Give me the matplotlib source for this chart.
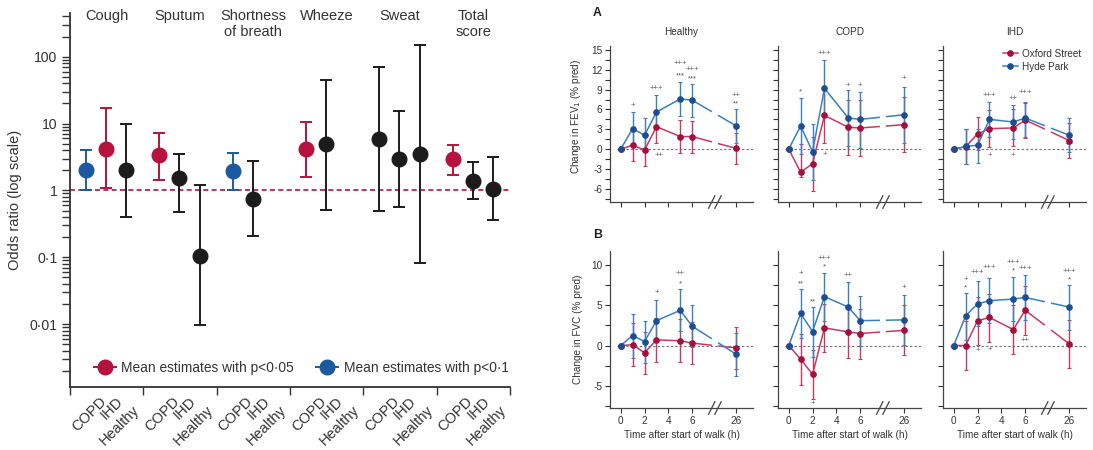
"""Odds ratios of symptoms + FEV1/FVC change after walk (Oxford Street vs Hyde Park)"""
import numpy as np
import matplotlib
matplotlib.use("Agg")
import matplotlib.pyplot as plt
import matplotlib.transforms as mtransforms
from matplotlib.lines import Line2D
from matplotlib.ticker import LogLocator, NullFormatter, FixedLocator, MultipleLocator
from matplotlib import font_manager

_names = {f.name for f in font_manager.fontManager.ttflist}
NARROW = "Liberation Sans Narrow" in _names
FS = 1.0 if NARROW else 0.84
plt.rcParams.update({
    "font.family": ["Liberation Sans Narrow" if NARROW else "Liberation Sans", "DejaVu Sans"],
    "axes.unicode_minus": False,
    "text.color": "#333333", "axes.labelcolor": "#333333",
    "xtick.color": "#333333", "ytick.color": "#333333",
})

RED = "#b5123d"
BLUE = "#1b5aa0"
BLACK = "#1c1c1c"

# ---------------- left panel: odds ratios (log scale) ----------------
SYMPTOMS = ["Cough", "Sputum", "Shortness\nof breath", "Wheeze", "Sweat", "Total\nscore"]
GROUPS = ["COPD", "IHD", "Healthy"]
nan = float("nan")
OR_MEAN = [[2.0, 4.2, 2.0], [3.4, 1.55, 0.104], [1.92, 0.74, nan],
           [4.1, 4.9, nan], [5.8, 2.94, 3.5], [2.94, 1.39, 1.05]]
OR_LO = [[1.0, 1.08, 0.4], [1.44, 0.475, 0.0097], [1.0, 0.21, nan],
         [1.58, 0.51, nan], [0.49, 0.57, 0.083], [1.7, 0.74, 0.365]]
OR_HI = [[4.0, 17.0, 10.0], [7.3, 3.5, 1.22], [3.6, 2.77, nan],
         [10.6, 45.0, nan], [71.0, 15.5, 149.0], [4.8, 2.68, 3.15]]
OR_SIG = [["p10", "p05", "ns"], ["p05", "ns", "ns"], ["p10", "ns", None],
          ["p05", "ns", None], ["ns", "ns", "ns"], ["p05", "ns", "ns"]]
SIG_COLOR = {"p05": RED, "p10": BLUE, "ns": BLACK}
OR_TICKS = [0.01, 0.1, 1, 10, 100]
OR_TICKLABELS = ["0·01", "0·1", "1", "10", "100"]

# ---------------- right panels: change in lung function ----------------
HOURS = [0, 1, 2, 3, 5, 6, 26]
X26 = 9.7  # where 26 h sits on the broken axis

FEV_H_OX = [0, 0.6, -0.15, 3.4, 1.9, 1.9, 0.1]
FEV_H_OX_LO = [0, -1.8, -2.5, 0.85, -0.6, -0.6, -2.3]
FEV_H_OX_HI = [0, 3.0, 2.2, 5.9, 4.4, 4.3, 2.5]
FEV_H_HP = [0, 3.1, 2.1, 5.6, 7.6, 7.4, 3.5]
FEV_H_HP_LO = [0, 0.6, -0.4, 3.0, 5.0, 4.8, 0.9]
FEV_H_HP_HI = [0, 5.6, 4.7, 8.2, 10.1, 9.9, 6.1]

FEV_C_OX = [0, -3.5, -2.2, 5.1, 3.3, 3.2, 3.7]
FEV_C_OX_LO = [0, -4.2, -6.4, 0.9, -0.9, -1.0, -0.5]
FEV_C_OX_HI = [0, 0.7, 1.9, 9.3, 7.5, 7.4, 7.9]
FEV_C_HP = [0, 3.5, -0.4, 9.2, 4.7, 4.5, 5.2]
FEV_C_HP_LO = [0, -0.8, -4.7, 5.0, 0.4, 0.2, 0.9]
FEV_C_HP_HI = [0, 7.8, 3.8, 13.5, 8.9, 8.7, 9.4]

FEV_I_OX = [0, 0.35, 2.3, 3.1, 3.2, 4.4, 1.3]
FEV_I_OX_LO = [0, -2.3, -0.2, 0.25, 0.5, 1.7, -1.3]
FEV_I_OX_HI = [0, 3.0, 4.9, 5.9, 6.0, 7.0, 4.0]
FEV_I_HP = [0, 0.4, 0.6, 4.5, 4.1, 4.7, 2.1]
FEV_I_HP_LO = [0, -2.3, -2.1, 1.8, 1.6, 1.9, -0.5]
FEV_I_HP_HI = [0, 3.1, 3.1, 7.1, 6.7, 7.2, 4.7]

FVC_H_OX = [0, 0.1, -0.9, 0.7, 0.6, 0.3, -0.3]
FVC_H_OX_LO = [0, -2.6, -3.6, -2.0, -2.1, -2.3, -2.9]
FVC_H_OX_HI = [0, 2.8, 1.7, 3.4, 3.3, 2.9, 2.3]
FVC_H_HP = [0, 1.25, 0.5, 3.1, 4.4, 2.4, -1.1]
FVC_H_HP_LO = [0, -1.5, -2.2, 0.5, 1.8, -0.2, -3.75]
FVC_H_HP_HI = [0, 3.9, 3.1, 5.7, 7.0, 5.0, 1.6]

FVC_C_OX = [0, -1.7, -3.6, 2.2, 1.7, 1.5, 1.9]
FVC_C_OX_LO = [0, -4.9, -6.7, -0.8, -1.5, -1.7, -1.2]
FVC_C_OX_HI = [0, 1.5, -0.5, 5.2, 4.8, 4.6, 5.0]
FVC_C_HP = [0, 4.0, 1.75, 6.1, 4.8, 3.1, 3.2]
FVC_C_HP_LO = [0, 1.0, -1.4, 3.0, 1.8, 0.0, 0.1]
FVC_C_HP_HI = [0, 7.0, 4.75, 9.1, 7.9, 6.2, 6.3]

FVC_I_OX = [0, 0, 3.1, 3.5, 2.0, 4.4, 0.2]
FVC_I_OX_LO = [0, -3.0, 0.1, 0.5, -1.1, 1.3, -2.8]
FVC_I_OX_HI = [0, 3.0, 6.0, 6.4, 5.0, 7.4, 3.2]
FVC_I_HP = [0, 3.7, 5.2, 5.6, 5.8, 6.0, 4.8]
FVC_I_HP_LO = [0, 0.75, 2.4, 2.8, 3.0, 3.2, 2.0]
FVC_I_HP_HI = [0, 6.5, 8.0, 8.4, 8.6, 8.8, 7.6]

# significance marks: (hour, value, text)
FEV_H_NOTES = [(1, 6.6, "+"), (3, 9.2, "+++"), (5, 13.0, "+++"), (5, 11.1, "***"),
               (6, 12.0, "+++"), (6, 10.6, "***"), (3.2, -1.0, "++"), (26, 8.1, "++"), (26, 6.8, "**")]
FEV_C_NOTES = [(1, 8.6, "*"), (3, 14.4, "+++"), (3, -0.75, "+"), (5, 9.7, "+"), (6, 9.6, "+"), (26, 10.7, "+")]
FEV_I_NOTES = [(3, 8.1, "+++"), (3, -0.9, "+"), (5, 7.6, "++"), (5, -0.9, "+"), (6, 8.6, "+++"), (6.1, 0.75, "++")]
FVC_H_NOTES = [(3, 6.6, "+"), (5, 9.0, "++"), (5, 7.75, "*")]
FVC_C_NOTES = [(1, 9.0, "+"), (1, 7.7, "**"), (2, 5.4, "**"), (2, -7.3, "+"), (3, 10.9, "+++"),
               (3, 9.8, "*"), (5, 8.75, "++"), (26, 7.3, "+")]
FVC_I_NOTES = [(1, 8.3, "+"), (1, 7.25, "*"), (2, 9.1, "+++"), (2, -0.6, "+"), (3, 9.8, "+++"),
               (3, -0.5, "+"), (5, 10.4, "+++"), (5, 9.3, "*"), (6, 9.6, "+++"), (6, 0.6, "++"),
               (26, 9.3, "+++"), (26, 8.25, "*")]

OX_LINE, OX_MARK = "#c63a62", "#a50f3b"
HP_LINE, HP_MARK = "#3c7fc0", "#1d4e92"

W, H = 1093, 450


def px_box(left, top, right, bottom):
    return [left / W, 1 - bottom / H, (right - left) / W, (bottom - top) / H]


def xpos(h):
    return h if h <= 6 else X26


def draw_series(ax, vals, lo, hi, cline, cmark):
    x = np.array([xpos(h) for h in HOURS], dtype=float)
    v = np.array(vals, dtype=float)
    yerr = [v - np.array(lo), np.array(hi) - v]
    ax.errorbar(x, v, yerr=yerr, fmt="none", ecolor=cline, elinewidth=1.0,
                capsize=1.6, capthick=0.8, zorder=2)
    ax.plot(x[:6], v[:6], color=cline, lw=1.1, zorder=3)
    # 6 h -> 26 h link, interrupted at the axis break
    for t0, t1 in [(0.0, 0.43), (0.6, 1.0)]:
        t = np.array([t0, t1])
        ax.plot(x[5] + t * (x[6] - x[5]), v[5] + t * (v[6] - v[5]), color=cline, lw=1.1, zorder=3)
    ax.plot(x, v, "o", ms=3.8, color=cmark, zorder=4)


def draw_panel(ax, ox, ox_lo, ox_hi, hp, hp_lo, hp_hi, notes, ylim, major, minor, bottom_labels, left_labels):
    ax.axhline(0, xmin=0.05, color="#777777", lw=0.8, ls=(0, (2.2, 1.8)), zorder=1)
    draw_series(ax, ox, ox_lo, ox_hi, OX_LINE, OX_MARK)
    draw_series(ax, hp, hp_lo, hp_hi, HP_LINE, HP_MARK)
    for h, y, s in notes:
        ax.text(xpos(h), y, s, ha="center", va="center", fontsize=6.5 * FS, color="#555555")
    ax.set_xlim(-0.9, 11.1)
    ax.set_ylim(*ylim)
    for s in ["top", "right"]:
        ax.spines[s].set_visible(False)
    for s in ["left", "bottom"]:
        ax.spines[s].set_color("#444444")
        ax.spines[s].set_linewidth(0.9)
    ax.set_xticks([xpos(h) for h in [0, 2, 4, 6, 26]])
    ax.set_xticklabels(["0", "2", "4", "6", "26"] if bottom_labels else [])
    ax.yaxis.set_major_locator(MultipleLocator(major))
    ax.yaxis.set_minor_locator(MultipleLocator(minor))
    if not left_labels:
        ax.set_yticklabels([])
    ax.tick_params(which="both", direction="out", length=3.5, width=0.8, labelsize=8.6 * FS, pad=2)
    # axis break marks
    xb = (7.9 - ax.get_xlim()[0]) / (ax.get_xlim()[1] - ax.get_xlim()[0])
    for dx in (-0.022, 0.022):
        ax.plot([xb + dx - 0.022, xb + dx + 0.022], [-0.04, 0.04], transform=ax.transAxes,
                color="#444444", lw=0.9, clip_on=False)


fig = plt.figure(figsize=(W / 100, H / 100), dpi=100)

# ===== left panel =====
ax = fig.add_axes(px_box(70, 13, 510, 387))
OFFS = [0.22, 0.49, 0.77]
ax.axhline(1, color=RED, lw=1.2, ls=(0, (3, 2)), zorder=1)
label_pos = []
for i in range(len(SYMPTOMS)):
    for j in range(len(GROUPS)):
        xp = i + OFFS[j]
        label_pos.append((xp, GROUPS[j], j))
        m = OR_MEAN[i][j]
        if np.isnan(m):
            continue
        c = SIG_COLOR[OR_SIG[i][j]]
        ax.errorbar([xp], [m], yerr=[[m - OR_LO[i][j]], [OR_HI[i][j] - m]], fmt="o", ms=10.5,
                    color=c, ecolor=c, elinewidth=1.4, capsize=4.5, capthick=1.4, zorder=3)
ax.set_yscale("log")
ax.set_ylim(0.00115, 450)
ax.set_xlim(0, 6)
ax.yaxis.set_major_locator(FixedLocator(OR_TICKS))
ax.set_yticklabels(OR_TICKLABELS)
ax.yaxis.set_minor_locator(LogLocator(base=10, subs=np.arange(2, 10), numticks=30))
ax.yaxis.set_minor_formatter(NullFormatter())
ax.set_xticks(range(7))
ax.set_xticklabels([])
ax.tick_params(which="both", direction="out", length=6, width=1.0, labelsize=12 * FS, pad=3)
for s in ["top", "right"]:
    ax.spines[s].set_visible(False)
for s in ["left", "bottom"]:
    ax.spines[s].set_color("#333333")
    ax.spines[s].set_linewidth(1.3)
ax.set_ylabel("Odds ratio (log scale)", fontsize=12.5 * FS)
ax.yaxis.set_label_coords(-0.11, 0.5)

blend = mtransforms.blended_transform_factory(ax.transData, ax.transAxes)
for i, s in enumerate(SYMPTOMS):
    ax.text(i + 0.5, 1.01, s, transform=blend, ha="center", va="top", fontsize=12.5 * FS, linespacing=1.15)

LABEL_DX = [13, 10, 6]
LABEL_DY = [-7, -7, -16]
for xp, lab, j in label_pos:
    off = mtransforms.ScaledTranslation(LABEL_DX[j] / 100, LABEL_DY[j] / 100, fig.dpi_scale_trans)
    ax.text(xp, 0, lab, transform=blend + off, rotation=45, ha="right", va="top",
            rotation_mode="anchor", fontsize=12.5 * FS)

handles = [Line2D([], [], color=RED, marker="o", ms=10.5, lw=1.4),
           Line2D([], [], color=BLUE, marker="o", ms=10.5, lw=1.4)]
ax.legend(handles, ["Mean estimates with p<0·05", "Mean estimates with p<0·1"], loc="lower right",
          bbox_to_anchor=(1.025, 0.0), ncol=2, frameon=False, fontsize=11.8 * FS,
          handlelength=1.6, handletextpad=0.4, columnspacing=1.6)

# ===== right panels =====
COLS = [610, 778, 943]
PW = 143
TITLES = ["Healthy", "COPD", "IHD"]
FEV = [(FEV_H_OX, FEV_H_OX_LO, FEV_H_OX_HI, FEV_H_HP, FEV_H_HP_LO, FEV_H_HP_HI, FEV_H_NOTES),
       (FEV_C_OX, FEV_C_OX_LO, FEV_C_OX_HI, FEV_C_HP, FEV_C_HP_LO, FEV_C_HP_HI, FEV_C_NOTES),
       (FEV_I_OX, FEV_I_OX_LO, FEV_I_OX_HI, FEV_I_HP, FEV_I_HP_LO, FEV_I_HP_HI, FEV_I_NOTES)]
FVC = [(FVC_H_OX, FVC_H_OX_LO, FVC_H_OX_HI, FVC_H_HP, FVC_H_HP_LO, FVC_H_HP_HI, FVC_H_NOTES),
       (FVC_C_OX, FVC_C_OX_LO, FVC_C_OX_HI, FVC_C_HP, FVC_C_HP_LO, FVC_C_HP_HI, FVC_C_NOTES),
       (FVC_I_OX, FVC_I_OX_LO, FVC_I_OX_HI, FVC_I_HP, FVC_I_HP_LO, FVC_I_HP_HI, FVC_I_NOTES)]

for k, left in enumerate(COLS):
    a = fig.add_axes(px_box(left, 46, left + PW, 202))
    draw_panel(a, *FEV[k], ylim=(-8, 15.6), major=3, minor=1.5, bottom_labels=False, left_labels=(k == 0))
    a.set_title(TITLES[k], fontsize=8.6 * FS, pad=8, color="#333333")
    if k == 0:
        a.set_ylabel("Change in FEV$_1$ (% pred)", fontsize=8.6 * FS)
        a.yaxis.set_label_coords(-0.19, 0.55)
        a.text(-0.09, 1.21, "A", transform=a.transAxes, fontsize=10.5 * FS, fontweight="bold",
               ha="center", va="center", color="#222222")
    if k == 2:
        lh = [Line2D([], [], color=OX_LINE, marker="o", ms=3.8, mfc=OX_MARK, mec=OX_MARK, lw=1.1),
              Line2D([], [], color=HP_LINE, marker="o", ms=3.8, mfc=HP_MARK, mec=HP_MARK, lw=1.1)]
        a.legend(lh, ["Oxford Street", "Hyde Park"], loc="upper right", bbox_to_anchor=(1.03, 1.04),
                 frameon=False, fontsize=8.6 * FS, handlelength=1.5, handletextpad=0.4, labelspacing=0.3)

    b = fig.add_axes(px_box(left, 251, left + PW, 408))
    draw_panel(b, *FVC[k], ylim=(-7.8, 11.8), major=5, minor=2.5, bottom_labels=True, left_labels=(k == 0))
    b.set_xlabel("Time after start of walk (h)", fontsize=8.6 * FS, labelpad=3)
    if k == 0:
        b.set_ylabel("Change in FVC (% pred)", fontsize=8.6 * FS)
        b.yaxis.set_label_coords(-0.19, 0.5)
        b.text(-0.09, 1.1, "B", transform=b.transAxes, fontsize=10.5 * FS, fontweight="bold",
               ha="center", va="center", color="#222222")

fig.savefig("out.png", dpi=100)
